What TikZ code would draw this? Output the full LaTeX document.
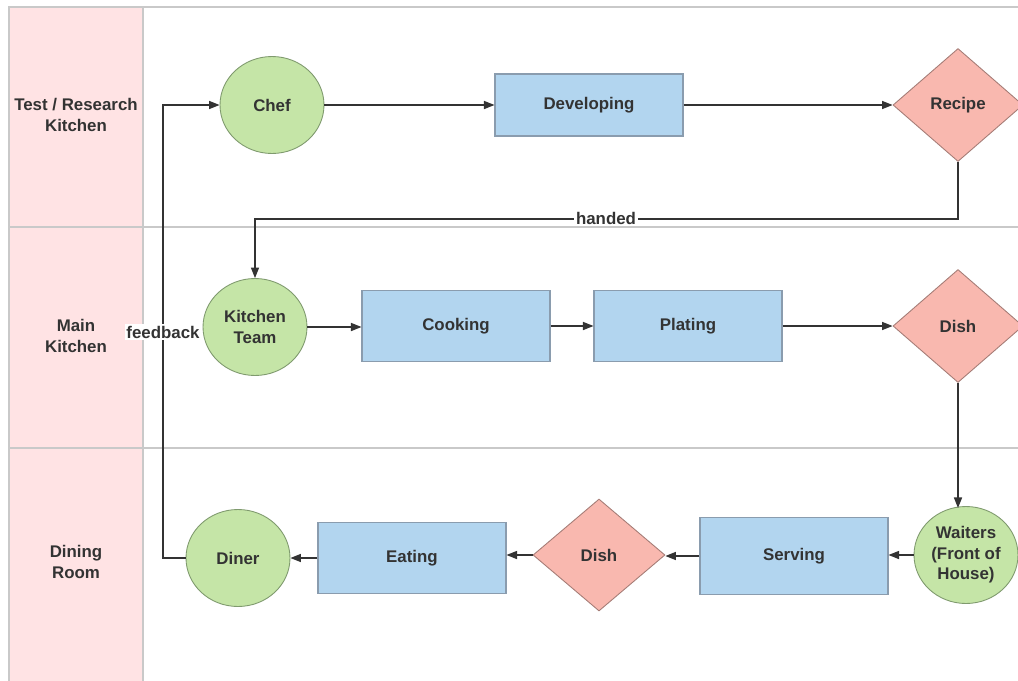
\documentclass[tikz,border=0pt]{standalone}
\usepackage{fontspec}
\setmainfont{Liberation Sans}
\usetikzlibrary{shapes.geometric,arrows.meta}

\definecolor{lanefill}{HTML}{FFE3E4}
\definecolor{laneline}{HTML}{C9C9C9}
\definecolor{txt}{HTML}{333333}
\definecolor{greenfill}{HTML}{C5E5A7}
\definecolor{greenline}{HTML}{7F9A6E}
\definecolor{bluefill}{HTML}{B2D5EF}
\definecolor{blueline}{HTML}{8A9CAE}
\definecolor{redfill}{HTML}{F9B8AF}
\definecolor{redline}{HTML}{A57C76}

\tikzset{
  lbl/.style={font=\bfseries\fontsize{9.6}{11.6}\selectfont, text=txt, align=center},
  actor/.style={lbl, ellipse, draw=greenline, fill=greenfill, line width=0.5pt,
    minimum width=2.08cm, minimum height=1.94cm, inner sep=0pt},
  task/.style={lbl, rectangle, draw=blueline, fill=bluefill, line width=0.6pt,
    minimum width=3.76cm, inner sep=0pt},
  item/.style={lbl, diamond, draw=redline, fill=redfill, line width=0.5pt,
    minimum width=2.6cm, minimum height=2.26cm, inner sep=0pt},
  flow/.style={draw=txt, line width=0.75pt, -{Triangle[length=6pt,width=4.6pt]}},
  tag/.style={lbl, fill=white, inner sep=1pt},
  lanetitle/.style={lbl}
}

\begin{document}
\begin{tikzpicture}[x=0.02cm,y=-0.02cm]
  \useasboundingbox (0,0) rectangle (1018,680);
  \clip (0,0) rectangle (1018,680);
  \fill[white] (0,0) rectangle (1018,680);

  % swimlanes
  \fill[lanefill] (9,7) rectangle (143,690);
  \draw[laneline, line width=0.7pt] (1030,7) -- (9,7) -- (9,690);
  \draw[laneline, line width=0.7pt] (143,7) -- (143,690);
  \draw[laneline, line width=0.7pt] (9,227) -- (1030,227);
  \draw[laneline, line width=0.7pt] (9,448) -- (1030,448);

  \node[lanetitle] (lane1) at (76,115) {Test / Research\\Kitchen};
  \node[lanetitle] (lane2) at (76,336) {Main\\Kitchen};
  \node[lanetitle] (lane3) at (76,562) {Dining\\Room};

  % test / research kitchen
  \node[actor] (chef) at (272,105) {Chef};
  \node[task, minimum height=1.24cm] (dev) at (589,105) {Developing};
  \node[item] (recipe) at (958,105) {Recipe};

  % main kitchen
  \node[actor] (team) at (255,327) {Kitchen\\Team};
  \node[task, minimum height=1.42cm] (cook) at (456,326) {Cooking};
  \node[task, minimum height=1.42cm] (plate) at (688,326) {Plating};
  \node[item] (dish) at (958,326) {Dish};

  % dining room
  \node[actor] (waiters) at (966,555) {Waiters\\(Front of\\House)};
  \node[task, minimum height=1.54cm] (serve) at (794,556) {Serving};
  \node[item, minimum width=2.64cm, minimum height=2.24cm] (dish2) at (599,555) {Dish};
  \node[task, minimum height=1.42cm] (eat) at (412,558) {Eating};
  \node[actor] (diner) at (238,558) {Diner};

  % connectors
  \draw[flow] (chef.east) -- (dev.west |- chef.east);
  \draw[flow] (dev.east) -- (recipe.west);
  \coordinate (h1) at (958,219);
  \coordinate (h2) at (255,219);
  \draw[flow] (recipe.south) -- (h1) -- (h2) -- (team.north);
  \node[tag] (handed) at (606,218) {handed};

  \draw[flow] (team.east) -- (cook.west |- team.east);
  \draw[flow] (cook.east) -- (plate.west);
  \draw[flow] (plate.east) -- (dish.west);
  \coordinate (w1) at (958,508);
  \draw[flow] (dish.south) -- (w1);

  \draw[flow] (waiters.west) -- (serve.east |- waiters.west);
  \draw[flow] (serve.west) -- (dish2.east |- serve.west);
  \draw[flow] (dish2.west) -- (eat.east |- dish2.west);
  \draw[flow] (eat.west) -- (diner.east);

  \coordinate (f1) at (163,558);
  \coordinate (f2) at (163,105);
  \draw[flow] (diner.west) -- (f1) -- (f2) -- (chef.west);
  \node[tag] (feedback) at (163,332) {feedback};
\end{tikzpicture}
\end{document}
